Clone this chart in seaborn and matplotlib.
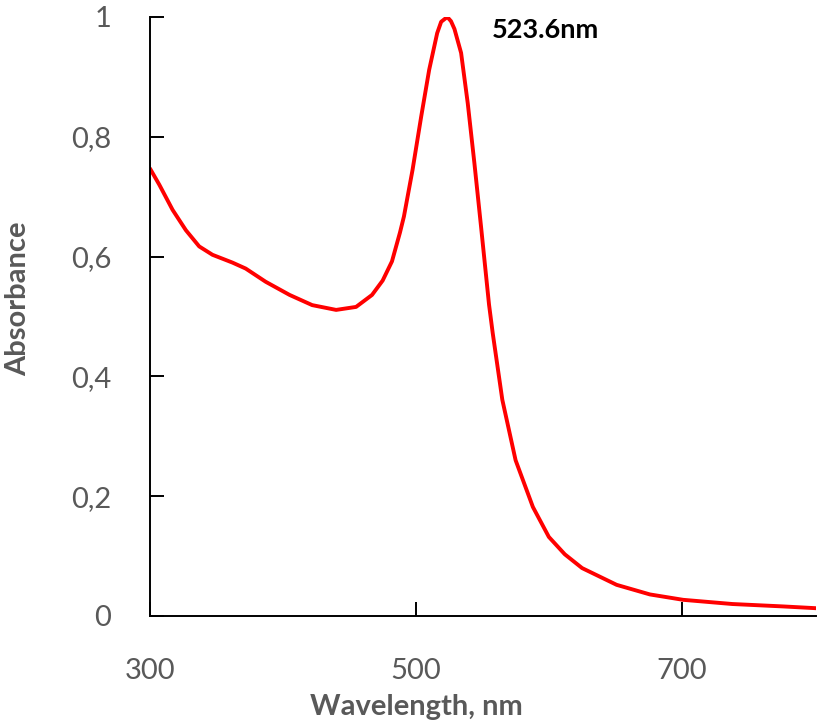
import numpy as np
import pandas as pd
import matplotlib
matplotlib.use("Agg")
import matplotlib.pyplot as plt
import seaborn as sns
from matplotlib.ticker import FuncFormatter

# UV-Vis absorbance spectrum
wavelength = [300, 307, 317, 327, 337, 347, 362, 372, 387, 405, 422, 440, 455,
              467, 475, 482, 488, 491, 497.5, 504, 510, 516, 519, 523.6, 526.4,
              529, 534, 539, 544, 549, 555, 557.8, 565, 575, 588, 600, 612, 625,
              651, 676, 701, 738, 776, 801]
absorbance = [0.747, 0.720, 0.678, 0.644, 0.617, 0.603, 0.590, 0.580, 0.558,
              0.536, 0.519, 0.511, 0.516, 0.536, 0.560, 0.592, 0.640, 0.667,
              0.745, 0.834, 0.912, 0.973, 0.992, 1.000, 0.993, 0.980, 0.940,
              0.856, 0.756, 0.650, 0.520, 0.472, 0.361, 0.260, 0.182, 0.132,
              0.103, 0.080, 0.052, 0.036, 0.027, 0.020, 0.016, 0.013]
peak_wl = 523.6
x_ticks = [300, 500, 700]
y_ticks = [0, 0.2, 0.4, 0.6, 0.8, 1.0]

df = pd.DataFrame({'wavelength': wavelength, 'absorbance': absorbance})

sns.set_style("white")
plt.rcParams['font.family'] = ['Lato', 'DejaVu Sans']

fig = plt.figure(figsize=(8.21, 7.23), dpi=100)
ax = fig.add_axes([0.1827, 0.148, 0.8113, 0.8285])

sns.lineplot(data=df, x='wavelength', y='absorbance', color='#ff0000',
             linewidth=2.8, ax=ax)

ax.set_xlim(300, 801)
ax.set_ylim(0, 1)
ax.set_xticks(x_ticks)
ax.set_yticks(y_ticks)
ax.yaxis.set_major_formatter(FuncFormatter(lambda v, p: f'{v:g}'.replace('.', ',')))

for s in ['top', 'right']:
    ax.spines[s].set_visible(False)
for s in ['left', 'bottom']:
    ax.spines[s].set_color('black')
    ax.spines[s].set_linewidth(1.4)

ax.tick_params(axis='both', direction='in', length=10, width=1.4, color='black',
               labelsize=21, labelcolor='#595959', bottom=True, left=True)
ax.tick_params(axis='x', pad=30)
ax.tick_params(axis='y', pad=28)

ax.set_xlabel('Wavelength, nm', fontsize=21, fontweight='bold', color='#595959', va='center')
ax.set_ylabel('Absorbance', fontsize=21, fontweight='bold', color='#595959', va='center')
ax.xaxis.set_label_coords(0.40, -0.152)
ax.yaxis.set_label_coords(-0.198, 0.53)

ax.text(557, 0.978, f'{peak_wl}nm', fontsize=19.5, fontweight='bold', color='black',
        va='center', ha='left')

fig.savefig('out.png', dpi=100)
